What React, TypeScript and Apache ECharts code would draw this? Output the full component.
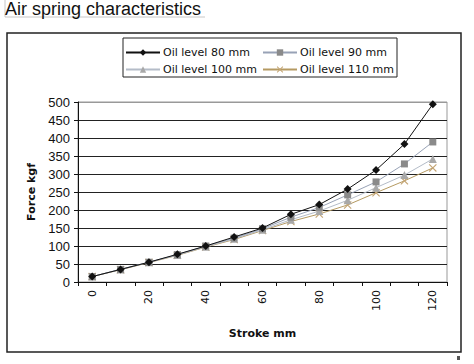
import React, { useEffect, useRef } from "react";
import * as echarts from "echarts";

const strokes = ["0", "10", "20", "30", "40", "50", "60", "70", "80", "90", "100", "110", "120"];
const oil80 = [15, 35, 55, 77, 100, 125, 150, 188, 215, 258, 311, 383, 494];
const oil90 = [15, 35, 55, 76, 100, 122, 148, 180, 207, 242, 278, 328, 389];
const oil100 = [15, 35, 55, 75, 98, 120, 145, 173, 197, 227, 262, 297, 342];
const oil110 = [15, 34, 54, 74, 97, 118, 143, 168, 189, 214, 248, 281, 317];
const seriesNames = ["Oil level 80 mm", "Oil level 90 mm", "Oil level 100 mm", "Oil level 110 mm"];

const crossPath = "path://M0,1L1,0L10,9L9,10Z M9,0L10,1L1,10L0,9Z";

export default function App() {
  const ref = useRef<HTMLDivElement>(null);
  useEffect(() => {
    const chart = echarts.init(ref.current!, null, { renderer: "svg" });
    const font = "DejaVu Sans";
    const legendBase = {
      orient: "vertical" as const,
      itemWidth: 34,
      itemHeight: 8,
      itemGap: 6,
      textStyle: { fontFamily: font, fontSize: 11, color: "#111", padding: [0, 0, 0, -2] },
      padding: 0,
    };
    chart.setOption({
      animation: false,
      backgroundColor: "#fff",
      title: {
        text: "Air spring characteristics",
        left: 5,
        top: 0,
        padding: 0,
        textStyle: { fontFamily: "Liberation Sans", fontSize: 18, fontWeight: "normal", color: "#111" },
      },
      graphic: [
        { type: "line", shape: { x1: 5, y1: 17, x2: 205, y2: 17 }, style: { stroke: "#c8c8c8", lineWidth: 1 } },
        { type: "line", shape: { x1: 5, y1: 0, x2: 5, y2: 17 }, style: { stroke: "#c8c8c8", lineWidth: 1 } },
        { type: "rect", shape: { x: 7, y: 33, width: 454, height: 319 }, style: { fill: "none", stroke: "#222", lineWidth: 1.5 } },
        { type: "rect", shape: { x: 123, y: 38, width: 274, height: 39 }, style: { fill: "none", stroke: "#222", lineWidth: 1 } },
        { type: "rect", shape: { x: 457, y: 356, width: 3, height: 4 }, style: { fill: "#555" } },
      ],
      legend: [
        { ...legendBase, left: 125, top: 47, data: [seriesNames[0], seriesNames[2]] },
        { ...legendBase, left: 262, top: 47, data: [seriesNames[1], seriesNames[3]] },
      ],
      grid: {
        left: 78,
        right: 27,
        top: 102,
        bottom: 82,
        show: true,
        borderColor: "#999",
        borderWidth: 1,
      },
      xAxis: {
        type: "category",
        data: strokes,
        boundaryGap: true,
        name: "Stroke mm",
        nameLocation: "middle",
        nameGap: 46,
        nameTextStyle: { fontFamily: font, fontSize: 11, fontWeight: "bold", color: "#111" },
        axisLine: { lineStyle: { color: "#111", width: 1 } },
        axisTick: { show: true, length: 4, interval: 0, lineStyle: { color: "#111" } },
        axisLabel: { interval: 1, rotate: 90, margin: 8, fontFamily: font, fontSize: 11, color: "#111" },
        splitLine: { show: false },
      },
      yAxis: {
        type: "value",
        min: 0,
        max: 500,
        interval: 50,
        name: "Force kgf",
        nameLocation: "middle",
        nameRotate: 90,
        nameGap: 34,
        nameTextStyle: { fontFamily: font, fontSize: 11, fontWeight: "bold", color: "#111" },
        axisLine: { show: true, lineStyle: { color: "#111", width: 1 } },
        axisTick: { show: true, length: 4, lineStyle: { color: "#111" } },
        axisLabel: { margin: 8, fontFamily: "Liberation Sans", fontSize: 13, color: "#111" },
        splitLine: {
          show: true,
          lineStyle: { color: ["#222", "#222", "#222", "#222", "#222", "#222", "#222", "#222", "#222", "#222", "#999"], width: 1 },
        },
      },
      series: [
        {
          name: seriesNames[0],
          type: "line",
          data: oil80,
          symbol: "diamond",
          symbolSize: 8,
          lineStyle: { color: "#111", width: 1 },
          itemStyle: { color: "#111" },
          z: 5,
        },
        {
          name: seriesNames[1],
          type: "line",
          data: oil90,
          symbol: "rect",
          symbolSize: 7,
          lineStyle: { color: "#98a2b6", width: 1 },
          itemStyle: { color: "#8a8a8a" },
          z: 4,
        },
        {
          name: seriesNames[2],
          type: "line",
          data: oil100,
          symbol: "triangle",
          symbolSize: 8,
          lineStyle: { color: "#b4bcc8", width: 1 },
          itemStyle: { color: "#a8a8a8" },
          z: 3,
        },
        {
          name: seriesNames[3],
          type: "line",
          data: oil110,
          symbol: crossPath,
          symbolSize: 8,
          lineStyle: { color: "#b59a62", width: 1 },
          itemStyle: { color: "#c4a574" },
          z: 2,
        },
      ],
    });
    return () => chart.dispose();
  }, []);
  return <div ref={ref} style={{ position: "fixed", left: 0, top: 0, width: 474, height: 364 }} />;
}
